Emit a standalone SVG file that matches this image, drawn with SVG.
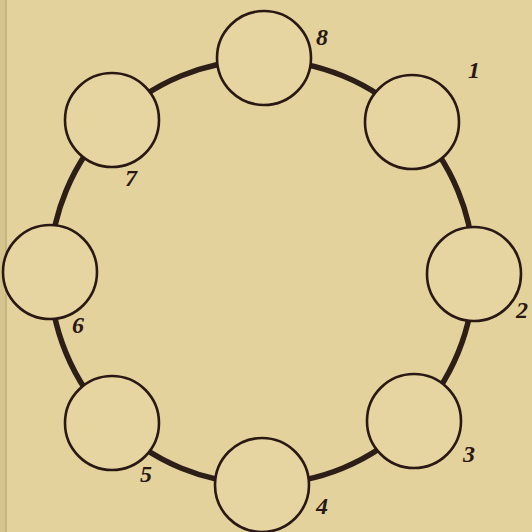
<svg xmlns="http://www.w3.org/2000/svg" width="532" height="532" viewBox="0 0 532 532">
<style>
.bg{fill:#e4d29c}
.ring{fill:none;stroke:#2e1e18;stroke-width:5.5;stroke-linecap:butt}
.node{fill:#e6d5a0;stroke:#2a1814;stroke-width:2.6}
.lbl{font-family:"Liberation Serif","DejaVu Serif",serif;font-style:italic;font-weight:bold;font-size:24px;fill:#2a1814;text-anchor:middle}
</style>
<rect class="bg" x="0" y="0" width="532" height="532"/>
<rect x="0" y="0" width="6" height="532" fill="#d6c48f"/>
<line x1="6" y1="0" x2="6" y2="532" stroke="#b9a876" stroke-width="1.2"/>
<g id="connectors">
<path class="ring" d="M262,60 A212,212 0 0 1 412,122"/>
<path class="ring" d="M412,122 A212,212 0 0 1 474,272"/>
<path class="ring" d="M474,272 A212,212 0 0 1 412,422"/>
<path class="ring" d="M412,422 A212,212 0 0 1 262,484"/>
<path class="ring" d="M262,484 A212,212 0 0 1 112,422"/>
<path class="ring" d="M112,422 A212,212 0 0 1 50,272"/>
<path class="ring" d="M50,272 A212,212 0 0 1 112,122"/>
<path class="ring" d="M112,122 A212,212 0 0 1 262,60"/>
</g>
<g id="node8"><circle class="node" cx="264" cy="58" r="47"/><text class="lbl" x="322" y="45">8</text></g>
<g id="node1"><circle class="node" cx="412" cy="122" r="47"/><text class="lbl" x="474" y="78" font-size="20">1</text></g>
<g id="node2"><circle class="node" cx="474" cy="274" r="47"/><text class="lbl" x="522" y="318">2</text></g>
<g id="node3"><circle class="node" cx="414" cy="421" r="47"/><text class="lbl" x="469" y="462">3</text></g>
<g id="node4"><circle class="node" cx="262" cy="485" r="47"/><text class="lbl" x="322" y="514">4</text></g>
<g id="node5"><circle class="node" cx="112" cy="423" r="47"/><text class="lbl" x="146" y="482">5</text></g>
<g id="node6"><circle class="node" cx="50" cy="272" r="47"/><text class="lbl" x="78" y="333" font-size="21">6</text></g>
<g id="node7"><circle class="node" cx="112" cy="120" r="47"/><text class="lbl" x="131" y="186">7</text></g>
</svg>
